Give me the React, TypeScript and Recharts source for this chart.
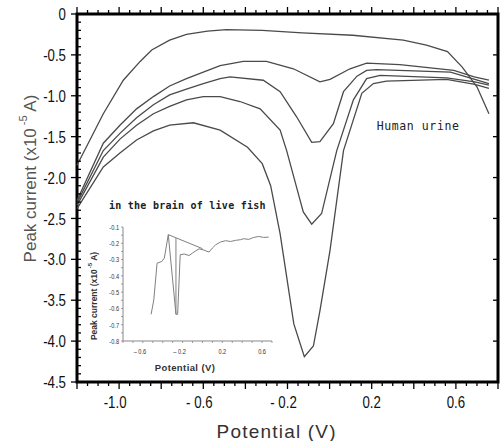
import { LineChart, Line, XAxis, YAxis, ReferenceArea } from 'recharts'

// main plot: potential (V) vs peak current (x10^-5 A), human urine
const potentialTicks = [-1.0, -0.6, -0.2, 0.2, 0.6]
const potentialTickLabels = ['-1.0', '- 0.6', '- 0.2', '0.2', '0.6']
const currentTicks = [0, -0.5, -1.0, -1.5, -2.0, -2.5, -3.0, -3.5, -4.0, -4.5]
const currentTickLabels = ['0', '-0.5', '-1.0', '-1.5', '-2.0', '-2.5', '-3.0', '-3.5', '-4.0', '-4.5']

// [potential, current]
const urineA: [number, number][] = [
    [-1.2, -1.85], [-1.075, -1.22], [-0.98, -0.81], [-0.9, -0.58], [-0.845, -0.44], [-0.76, -0.32],
    [-0.68, -0.25], [-0.58, -0.21], [-0.49, -0.19], [-0.32, -0.2], [-0.13, -0.23], [0.11, -0.26],
    [0.35, -0.32], [0.46, -0.38], [0.56, -0.46], [0.63, -0.65], [0.7, -0.89], [0.757, -1.22],
]
const urineB: [number, number][] = [
    [-1.2, -2.28], [-1.075, -1.58], [-0.996, -1.36], [-0.917, -1.16], [-0.837, -1.01], [-0.76, -0.88],
    [-0.68, -0.79], [-0.6, -0.71], [-0.52, -0.63], [-0.41, -0.58], [-0.3, -0.58], [-0.172, -0.67],
    [-0.046, -0.83], [0.002, -0.8], [0.097, -0.67], [0.176, -0.6], [0.334, -0.62], [0.59, -0.69],
    [0.687, -0.77], [0.757, -0.81],
]
const urineC: [number, number][] = [
    [-1.2, -2.31], [-1.075, -1.67], [-0.996, -1.46], [-0.917, -1.27], [-0.837, -1.11], [-0.76, -0.99],
    [-0.68, -0.92], [-0.6, -0.85], [-0.52, -0.79], [-0.473, -0.77], [-0.315, -0.81], [-0.235, -0.95],
    [-0.156, -1.26], [-0.085, -1.57], [-0.046, -1.56], [0.018, -1.34], [0.066, -0.95], [0.13, -0.76],
    [0.176, -0.69], [0.224, -0.68], [0.574, -0.71], [0.69, -0.8], [0.757, -0.85],
]
const urineD: [number, number][] = [
    [-1.2, -2.34], [-1.075, -1.75], [-0.996, -1.53], [-0.917, -1.36], [-0.837, -1.22], [-0.76, -1.13],
    [-0.68, -1.05], [-0.6, -1.01], [-0.52, -1.01], [-0.426, -1.07], [-0.33, -1.16], [-0.235, -1.42],
    [-0.204, -1.67], [-0.14, -2.28], [-0.125, -2.42], [-0.085, -2.57], [-0.038, -2.44], [0.034, -1.67],
    [0.113, -1.05], [0.176, -0.79], [0.24, -0.75], [0.556, -0.78], [0.69, -0.83], [0.757, -0.87],
]
const urineE: [number, number][] = [
    [-1.2, -2.38], [-1.075, -1.87], [-0.996, -1.7], [-0.917, -1.54], [-0.837, -1.43], [-0.76, -1.36],
    [-0.647, -1.33], [-0.52, -1.42], [-0.39, -1.63], [-0.32, -1.83], [-0.28, -2.1], [-0.235, -2.69],
    [-0.17, -3.79], [-0.12, -4.19], [-0.077, -4.06], [-0.046, -3.63], [0.002, -2.89], [0.066, -1.67],
    [0.153, -0.97], [0.208, -0.85], [0.27, -0.82], [0.556, -0.8], [0.69, -0.86], [0.757, -0.91],
]

// inset: in the brain of live fish
const fishTicksX = [-0.6, -0.2, 0.2, 0.6]
const fishTickLabelsX = ['– 0.6', '– 0.2', '0.2', '0.6']
const fishTicksY = [-0.1, -0.2, -0.3, -0.4, -0.5, -0.6, -0.7, -0.8]
const fishTickLabelsY = ['-0.1', '-0.2', '-0.3', '-0.4', '-0.5', '-0.6', '-0.7', '-0.8']

const fishMain: [number, number][] = [
    [-0.517, -0.636], [-0.49, -0.548], [-0.457, -0.322], [-0.41, -0.312], [-0.384, -0.291], [-0.344, -0.147],
    [-0.267, -0.636], [-0.25, -0.636], [-0.224, -0.27], [-0.184, -0.266], [-0.134, -0.275], [-0.1, -0.26],
    [-0.067, -0.246], [-0.034, -0.234], [0.016, -0.242], [0.066, -0.254], [0.1, -0.229], [0.133, -0.209],
    [0.183, -0.192], [0.233, -0.184], [0.283, -0.189], [0.333, -0.182], [0.383, -0.178], [0.416, -0.172],
    [0.466, -0.176], [0.516, -0.164], [0.566, -0.158], [0.616, -0.164], [0.666, -0.162],
]
const fishDiagonal: [number, number][] = [[-0.344, -0.147], [0.0, -0.233]]
const fishSpike: [number, number][] = [[-0.267, -0.168], [-0.267, -0.636]]

const toPoints = (rows: [number, number][]) => rows.map(([v, i]) => ({ v, i }))

const steps = (from: number, to: number, step: number) => {
    const out: number[] = []
    const n = Math.round((to - from) / step)
    for (let k = 0; k <= n; k++) out.push(Math.round((from + k * step) * 1000) / 1000)
    return out
}
const isMultiple = (v: number, step: number) => Math.abs(v / step - Math.round(v / step)) < 1e-6
const labelFor = (v: number, ticks: number[], labels: string[]) => {
    const k = ticks.findIndex((t) => Math.abs(t - v) < 1e-6)
    return k >= 0 ? labels[k] : null
}

const narrowFont = '"Liberation Sans", Arial, sans-serif'

function BottomTick({ x, y, payload }: any) {
    const v = payload.value
    const major = isMultiple(v, 0.2)
    const label = labelFor(v, potentialTicks, potentialTickLabels)
    return (
        <g>
            <path d={`M${x},${y}V${y + (major ? 7 : 4)}`} stroke="#000" strokeWidth={1.3} fill="none" />
            {label && (
                <text
                    transform={`translate(${x - (v < 0 ? 4 : 0)},${y + 20}) scale(0.78,1)`}
                    textAnchor="middle"
                    dominantBaseline="central"
                    fontSize={17}
                    fontFamily={narrowFont}
                    fill="#111"
                >
                    {label}
                </text>
            )}
        </g>
    )
}

function TopTick({ x, y, payload }: any) {
    const major = isMultiple(payload.value, 0.2)
    return (
        <g>
            <path d={`M${x},${y}V${y - (major ? 7 : 4)}`} stroke="#000" strokeWidth={1.3} fill="none" />
        </g>
    )
}

function LeftTick({ x, y, payload }: any) {
    const v = payload.value
    const major = isMultiple(v, 0.5)
    const label = labelFor(v, currentTicks, currentTickLabels)
    return (
        <g>
            <path d={`M${major ? x - 6 : x},${y}H${x + 4}`} stroke="#000" strokeWidth={1.3} fill="none" />
            {label && (
                <text
                    transform={`translate(${x - 11},${y}) scale(0.78,1)`}
                    textAnchor="end"
                    dominantBaseline="central"
                    fontSize={17}
                    fontFamily={narrowFont}
                    fill="#111"
                >
                    {label}
                </text>
            )}
        </g>
    )
}

function RightTick({ x, y }: any) {
    return (
        <g>
            <path d={`M${x - 5},${y}H${x}`} stroke="#000" strokeWidth={1.3} fill="none" />
        </g>
    )
}

function InsetBottomTick({ x, y, payload }: any) {
    const v = payload.value
    const label = labelFor(v, fishTicksX, fishTickLabelsX)
    return (
        <g>
            {label && (
                <text
                    transform={`translate(${x - (v < 0 ? 3 : 0)},${y + 8}) scale(0.75,1)`}
                    textAnchor="middle"
                    dominantBaseline="central"
                    fontSize={7.5}
                    fontFamily={narrowFont}
                    fill="#333"
                >
                    {label}
                </text>
            )}
        </g>
    )
}

function InsetLeftTick({ x, y, payload }: any) {
    const label = labelFor(payload.value, fishTicksY, fishTickLabelsY)
    return (
        <g>
            {label && (
                <text
                    transform={`translate(${x - 2},${y}) scale(0.75,1)`}
                    textAnchor="end"
                    dominantBaseline="central"
                    fontSize={7.5}
                    fontFamily={narrowFont}
                    fill="#333"
                >
                    {label}
                </text>
            )}
        </g>
    )
}

const urineSeries = [urineA, urineB, urineC, urineD, urineE]
const fishSeries = [fishMain, fishDiagonal, fishSpike]

export default function App() {
    return (
        <div style={{ position: 'absolute', left: 0, top: 0, width: 503, height: 441, background: '#fff' }}>
            <div style={{ position: 'absolute', left: 0, top: 0 }}>
                <LineChart width={503} height={441} margin={{ top: 6, right: 0, bottom: 29, left: 17 }}>
                    <XAxis
                        dataKey="v"
                        type="number"
                        domain={[-1.2, 0.8]}
                        ticks={steps(-1.2, 0.8, 0.05)}
                        interval={0}
                        height={30}
                        tickSize={0}
                        tickMargin={0}
                        tickLine={false}
                        axisLine={false}
                        tick={(p: any) => <BottomTick {...p} />}
                    />
                    <XAxis
                        xAxisId="top"
                        orientation="top"
                        dataKey="v"
                        type="number"
                        domain={[-1.2, 0.8]}
                        allowDataOverflow
                        ticks={steps(-1.2, 0.8, 0.05)}
                        interval={0}
                        height={8}
                        tickSize={0}
                        tickMargin={0}
                        tickLine={false}
                        axisLine={false}
                        tick={(p: any) => <TopTick {...p} />}
                    />
                    <YAxis
                        type="number"
                        domain={[-4.5, 0]}
                        ticks={steps(-4.5, 0, 0.1)}
                        interval={0}
                        width={60}
                        tickSize={0}
                        tickMargin={0}
                        tickLine={false}
                        axisLine={false}
                        tick={(p: any) => <LeftTick {...p} />}
                    />
                    <YAxis
                        yAxisId="right"
                        orientation="right"
                        type="number"
                        domain={[-4.5, 0]}
                        allowDataOverflow
                        ticks={currentTicks}
                        interval={0}
                        width={5}
                        tickSize={0}
                        tickMargin={0}
                        tickLine={false}
                        axisLine={false}
                        tick={(p: any) => <RightTick {...p} />}
                    />
                    <ReferenceArea
                        x1={-1.2}
                        x2={0.8}
                        y1={-4.5}
                        y2={0}
                        fill="none"
                        fillOpacity={0}
                        stroke="#000"
                        strokeWidth={3}
                        strokeOpacity={1}
                    />
                    {urineSeries.map((rows, idx) => (
                        <Line
                            key={idx}
                            data={toPoints(rows)}
                            dataKey="i"
                            type="linear"
                            dot={false}
                            stroke="#4a4a4a"
                            strokeWidth={1.3}
                            isAnimationActive={false}
                        />
                    ))}
                </LineChart>
            </div>

            <div style={{ position: 'absolute', left: 80, top: 215 }}>
                <LineChart width={195} height={160} margin={{ top: 12, right: 3, bottom: 0, left: 13 }}>
                    <XAxis
                        dataKey="v"
                        type="number"
                        domain={[-0.8, 0.7]}
                        ticks={steps(-0.8, 0.7, 0.1)}
                        interval={0}
                        height={34}
                        tickSize={2}
                        tickMargin={0}
                        stroke="#888"
                        tickLine={{ stroke: '#888', strokeWidth: 0.8 }}
                        axisLine={{ stroke: '#888', strokeWidth: 1 }}
                        tick={(p: any) => <InsetBottomTick {...p} />}
                    />
                    <YAxis
                        type="number"
                        domain={[-0.8, -0.1]}
                        ticks={steps(-0.8, -0.1, 0.05)}
                        interval={0}
                        width={30}
                        tickSize={2}
                        tickMargin={0}
                        stroke="#888"
                        tickLine={{ stroke: '#888', strokeWidth: 0.8 }}
                        axisLine={{ stroke: '#888', strokeWidth: 1 }}
                        tick={(p: any) => <InsetLeftTick {...p} />}
                    />
                    {fishSeries.map((rows, idx) => (
                        <Line
                            key={idx}
                            data={toPoints(rows)}
                            dataKey="i"
                            type="linear"
                            dot={false}
                            stroke="#808080"
                            strokeWidth={1}
                            isAnimationActive={false}
                        />
                    ))}
                </LineChart>
            </div>

            <svg width={503} height={441} style={{ position: 'absolute', left: 0, top: 0, pointerEvents: 'none' }}>
                <text
                    transform="translate(30,178.5) rotate(-90)"
                    textAnchor="middle"
                    dominantBaseline="central"
                    fontSize={17}
                    fontFamily={narrowFont}
                    fill="#555"
                >
                    Peak current (x10
                    <tspan dx={3} dy={-7} fontSize={11}>-5</tspan>
                    <tspan dy={7}> A)</tspan>
                </text>
                <text
                    x={276.7}
                    y={431}
                    textAnchor="middle"
                    dominantBaseline="central"
                    fontSize={19}
                    letterSpacing={1.2}
                    fontFamily={narrowFont}
                    fill="#333"
                >
                    Potential (V)
                </text>
                <text
                    x={376.7}
                    y={126}
                    dominantBaseline="central"
                    fontSize={11.5}
                    letterSpacing={0.6}
                    fontFamily='"DejaVu Sans Mono", monospace'
                    fill="#222"
                >
                    Human urine
                </text>
                <text
                    x={109}
                    y={205.5}
                    dominantBaseline="central"
                    fontSize={10}
                    fontWeight="bold"
                    letterSpacing={0.25}
                    fontFamily='"DejaVu Sans Mono", monospace'
                    fill="#222"
                >
                    in the brain of live fish
                </text>
                <text
                    transform="translate(94,296) rotate(-90)"
                    textAnchor="middle"
                    dominantBaseline="central"
                    fontSize={8.5}
                    fontWeight="bold"
                    fontFamily={narrowFont}
                    fill="#333"
                >
                    Peak current (x10
                    <tspan dx={1} dy={-4} fontSize={6}>-5</tspan>
                    <tspan dy={4}> A)</tspan>
                </text>
                <text
                    x={185}
                    y={367.7}
                    textAnchor="middle"
                    dominantBaseline="central"
                    fontSize={9.5}
                    fontWeight="bold"
                    letterSpacing={0.4}
                    fontFamily={narrowFont}
                    fill="#333"
                >
                    Potential (V)
                </text>
            </svg>
        </div>
    )
}
